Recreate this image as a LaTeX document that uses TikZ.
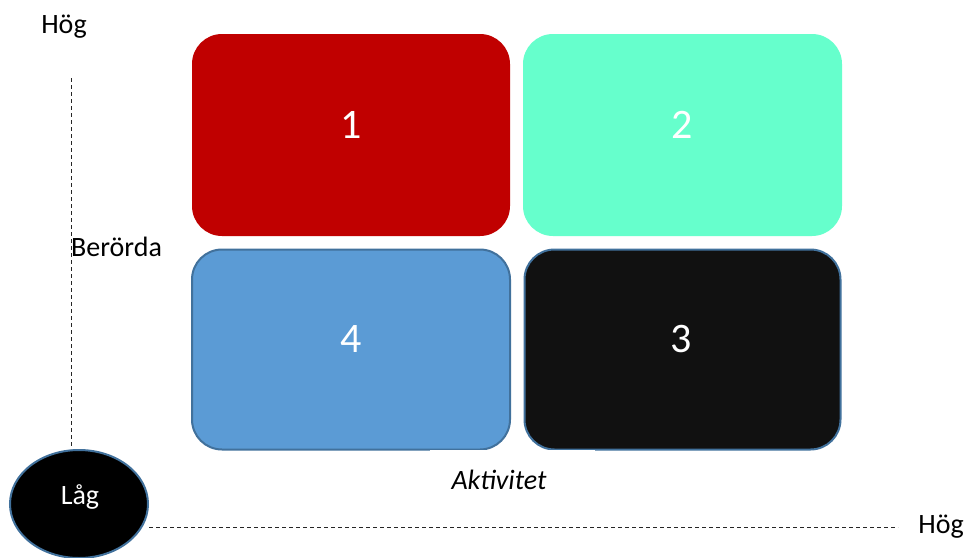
\documentclass[tikz,border=0pt]{standalone}
\usepackage{fontspec}
\setmainfont{Carlito}
\usetikzlibrary{shapes.geometric}
\definecolor{boxred}{HTML}{C00000}
\definecolor{boxmint}{HTML}{66FFCC}
\definecolor{boxblue}{HTML}{5B9BD5}
\definecolor{boxedge}{HTML}{41719C}
\definecolor{boxdark}{HTML}{111111}
\tikzset{
  quad/.style={rectangle, rounded corners=30pt, minimum width=318pt, minimum height=202pt, inner sep=0pt},
  quadnum/.style={text=white, font=\fontsize{42}{42}\selectfont},
  axislabel/.style={font=\fontsize{28}{28}\selectfont, inner sep=0pt},
  axisline/.style={draw=black!85, line width=1pt, dash pattern=on 4pt off 3pt},
}
\begin{document}
\begin{tikzpicture}[x=1pt, y=-1pt]
  \useasboundingbox[fill=white] (0,0) rectangle (969,557);

  % quadrants
  \node[quad, fill=boxred] (q1) at (351,135) {};
  \node[quad, fill=boxmint, minimum width=319pt] (q2) at (682.5,135) {};
  \node[quad, fill=boxblue, draw=boxedge, line width=2pt, minimum height=200pt] (q4) at (351,349.5) {};
  \node[quad, fill=boxdark, draw=boxedge, line width=2pt, minimum width=316pt, minimum height=200pt] (q3) at (682.5,349.5) {};

  \node[quadnum] (n1) at (351,125) {1};
  \node[quadnum] (n2) at (682,125) {2};
  \node[quadnum] (n4) at (351,339) {4};
  \node[quadnum] (n3) at (681,339) {3};

  % horizontal axis caption (its white box hides part of the lower edges)
  \fill[white] (430,450.4) rectangle (595,470);
  \node[axislabel, font=\fontsize{28}{28}\selectfont\itshape] (akt) at (499,480) {Aktivitet};

  % origin
  \node[ellipse, fill=black, draw=boxedge, line width=2pt, minimum width=138pt, minimum height=108pt, inner sep=0pt] (low) at (79,504) {};
  \node[axislabel, text=white] (lowtxt) at (80,497) {Låg};

  % axes
  \coordinate (ytop) at (71,78);
  \coordinate (xend) at (898,527);
  \draw[axisline] (ytop) -- (low.north -| ytop);
  \draw[axisline] (low.east |- xend) -- (xend);

  \node[axislabel] (hogy) at (64,27) {Hög};
  \node[axislabel] (hogx) at (941,527) {Hög};
  \node[axislabel, anchor=west] (ber) at (71,247) {Berörda};
\end{tikzpicture}
\end{document}
